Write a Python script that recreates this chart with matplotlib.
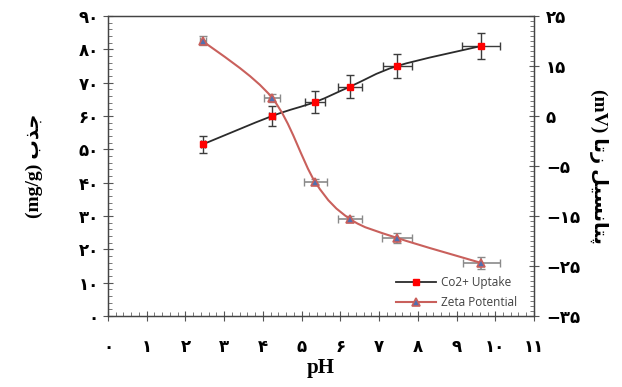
import matplotlib
matplotlib.use("Agg")
import matplotlib.pyplot as plt
from matplotlib.path import Path
from matplotlib.patches import PathPatch
from matplotlib.lines import Line2D
from matplotlib.ticker import MultipleLocator

# --- data ---
ph = [2.45, 4.24, 5.35, 6.25, 7.47, 9.64]
uptake = [51.5, 60.0, 64.2, 68.8, 75.0, 81.0]
uptake_yerr = [2.5, 3.0, 3.3, 3.5, 3.6, 4.0]
uptake_xerr = [0.05, 0.08, 0.26, 0.32, 0.37, 0.49]

zeta = [20.0, 8.6, -8.2, -15.6, -19.4, -24.4]
zeta_yerr = [0.9, 0.8, 0.5, 0.6, 1.0, 1.2]
zeta_xerr = [0.08, 0.2, 0.3, 0.3, 0.39, 0.48]

x_ticks = list(range(0, 12))
left_ticks = list(range(0, 91, 10))
right_ticks = list(range(-35, 26, 10))

FA = str.maketrans("0123456789", "۰۱۲۳۴۵۶۷۸۹")


def fa_num(v):
    s = str(abs(v)).translate(FA)
    return "\u2212" + s if v < 0 else s


def smooth_path(xs, ys):
    # Catmull-Rom through the points, handed to matplotlib as cubic Beziers
    pts = list(zip(xs, ys))
    n = len(pts)
    verts = [pts[0]]
    codes = [Path.MOVETO]
    for i in range(n - 1):
        p0 = pts[max(i - 1, 0)]
        p1 = pts[i]
        p2 = pts[i + 1]
        p3 = pts[min(i + 2, n - 1)]
        c1 = (p1[0] + (p2[0] - p0[0]) / 6, p1[1] + (p2[1] - p0[1]) / 6)
        c2 = (p2[0] - (p3[0] - p1[0]) / 6, p2[1] - (p3[1] - p1[1]) / 6)
        verts += [c1, c2, p2]
        codes += [Path.CURVE4] * 3
    return Path(verts, codes)


fig = plt.figure(figsize=(6.22, 3.87), dpi=100)
ax = fig.add_axes([0.1736, 0.1835, 0.6849, 0.7752])
ax2 = ax.twinx()

# uptake series (left axis)
ax.errorbar(ph, uptake, yerr=uptake_yerr, xerr=uptake_xerr, fmt="none",
            ecolor="#3c3c3c", elinewidth=1, capsize=3, capthick=1, zorder=2)
ax.add_patch(PathPatch(smooth_path(ph, uptake), facecolor="none",
                       edgecolor="#2b2b2b", lw=1.3, zorder=3))
ax.plot(ph, uptake, ls="none", marker="s", ms=5, mfc="#ff0000",
        mec="#ff0000", zorder=4)

# zeta series (right axis)
ax2.errorbar(ph, zeta, yerr=zeta_yerr, xerr=zeta_xerr, fmt="none",
             ecolor="#8a8a8a", elinewidth=1.2, capsize=3, capthick=1, zorder=2)
ax2.add_patch(PathPatch(smooth_path(ph, zeta), facecolor="none",
                        edgecolor="#c9605c", lw=1.5, zorder=3))
ax2.plot(ph, zeta, ls="none", marker="^", ms=5.5, mfc="#4f6fb0",
         mec="#c9605c", mew=1.2, zorder=4)

ax.set_xlim(0, 11)
ax.set_ylim(0, 90)
ax2.set_ylim(-35, 25)

ax.set_xticks(x_ticks)
ax.set_xticklabels([fa_num(v) for v in x_ticks])
ax.set_yticks(left_ticks)
ax.set_yticklabels([fa_num(v) for v in left_ticks])
ax2.set_yticks(right_ticks)
ax2.set_yticklabels([fa_num(v) for v in right_ticks])

ax.xaxis.set_minor_locator(MultipleLocator(0.2))
ax.yaxis.set_minor_locator(MultipleLocator(2))
ax2.yaxis.set_minor_locator(MultipleLocator(1))

for lab in ax.get_xticklabels() + ax.get_yticklabels() + ax2.get_yticklabels():
    lab.set_fontfamily("DejaVu Sans")
    lab.set_fontweight("bold")
    lab.set_fontsize(12)

ax.tick_params(axis="x", which="major", direction="inout", length=7,
               width=0.8, color="#555555", pad=12)
ax.tick_params(axis="y", which="major", direction="inout", length=7,
               width=0.8, color="#555555", pad=3)
ax.tick_params(which="minor", direction="in", length=3, width=0.7,
               color="#777777")
ax2.tick_params(axis="y", which="major", direction="inout", length=7,
                width=0.8, color="#555555", pad=5)
ax2.tick_params(axis="y", which="minor", direction="in", length=3,
                width=0.7, color="#777777")

for a in (ax, ax2):
    for sp in a.spines.values():
        sp.set_color("#444444")
        sp.set_linewidth(0.9)

# labels (Persian written in visual order with presentation forms)
lbl_font = ["Liberation Serif", "DejaVu Sans"]
ax.set_xlabel("pH", family=lbl_font, weight="bold", fontsize=15, labelpad=2)
ax.set_ylabel("(mg/g) \uFE8F\uFEAC\uFE9F", family=lbl_font, weight="bold",
              fontsize=14, labelpad=26)
ax2.set_ylabel("(mV) \uFE8E\uFE97\uFEAF \uFEDE\uFEF4\uFEB4\uFEE7\uFE8E\uFE98\uFB58",
               family=lbl_font, weight="bold", fontsize=14, rotation=-90,
               labelpad=20)

handles = [
    Line2D([], [], color="#2b2b2b", lw=1.3, marker="s", ms=5,
           mfc="#ff0000", mec="#ff0000"),
    Line2D([], [], color="#c9605c", lw=1.5, marker="^", ms=5.5,
           mfc="#4f6fb0", mec="#c9605c", mew=1.2),
]
leg = ax.legend(handles, ["Co2+ Uptake", "Zeta Potential"], loc="lower right",
                bbox_to_anchor=(0.985, -0.012), frameon=False,
                prop=dict(family="Open Sans", size=8.5), handlelength=3.4,
                labelspacing=0.6, handletextpad=0.4)
for t in leg.get_texts():
    t.set_color("#404040")

fig.savefig("out.png", dpi=100)
